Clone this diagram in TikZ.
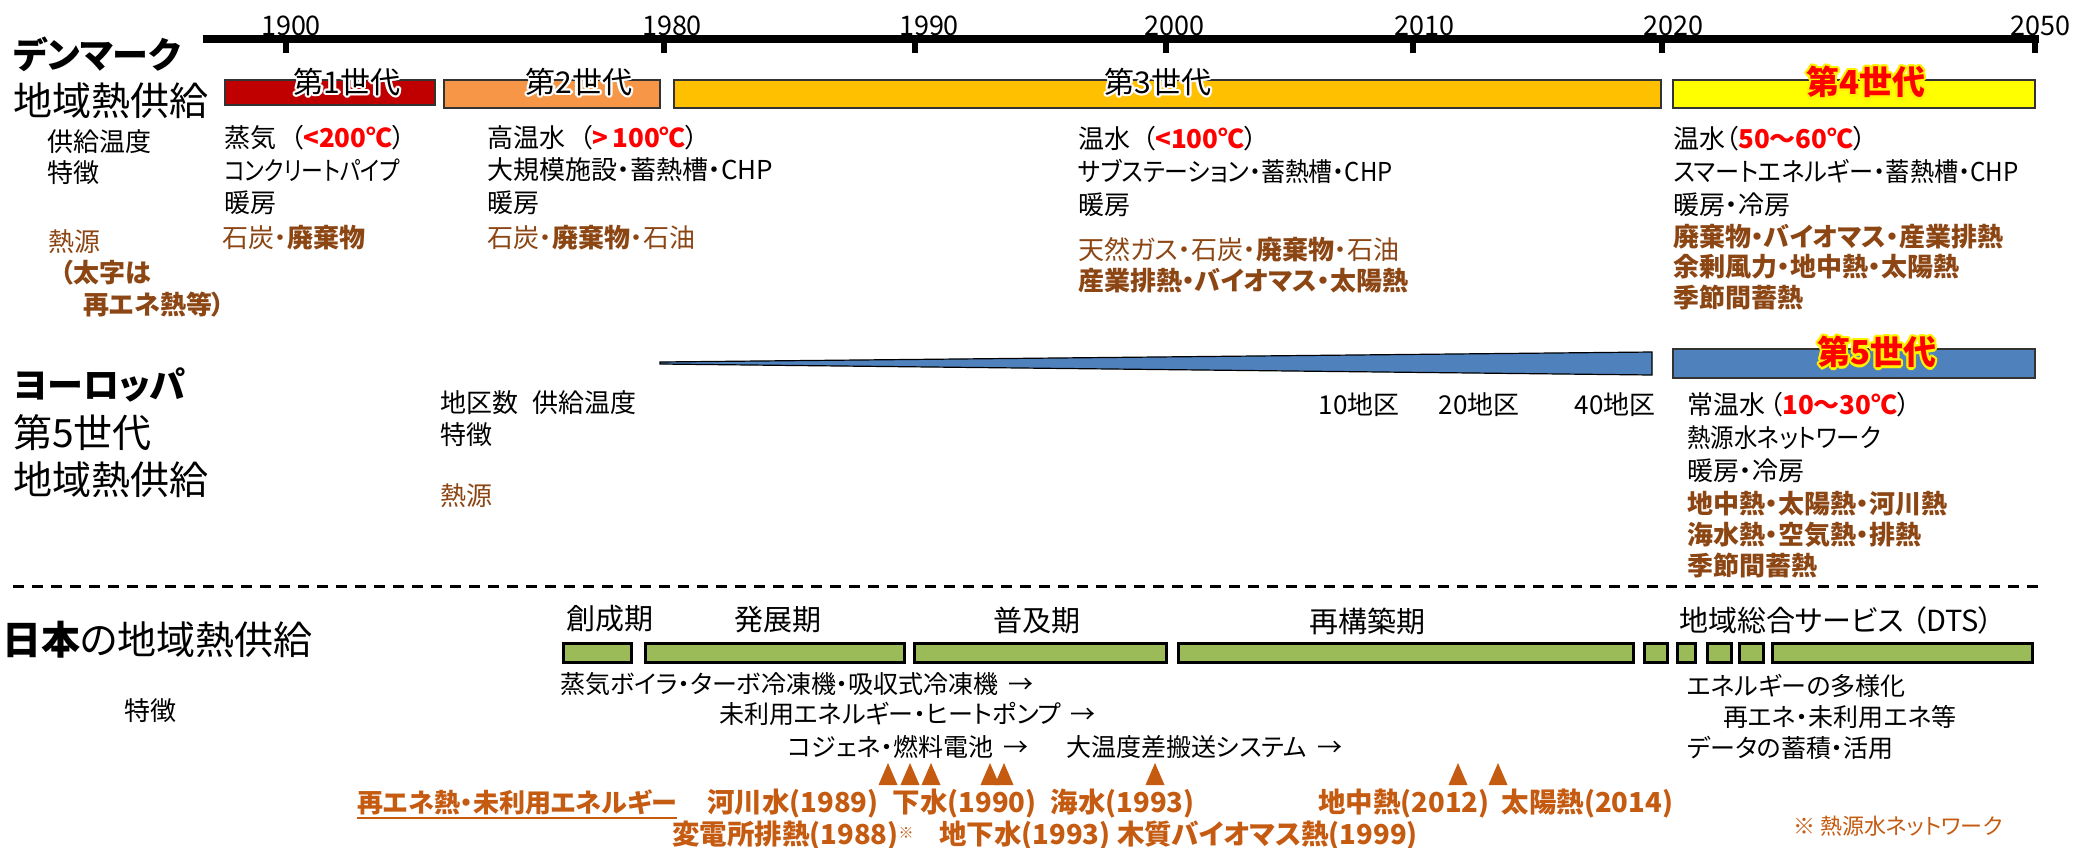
\documentclass[tikz,border=0pt]{standalone}
\usepackage{fontspec}
\usepackage{graphicx}
\setmainfont{Noto Sans CJK JP}[RawFeature=+palt]
\usetikzlibrary{calc}
\definecolor{brn}{HTML}{8C4614}
\definecolor{org}{HTML}{C55A11}
\definecolor{genA}{HTML}{C00000}
\definecolor{genB}{HTML}{F79646}
\definecolor{genC}{HTML}{FFC000}
\definecolor{genD}{HTML}{FFFF00}
\definecolor{eublue}{HTML}{4F81BD}
\definecolor{jpgreen}{HTML}{9BBB59}
\newcommand\fsz[1]{\fontsize{#1}{#1}\selectfont}
\newcommand\rb[1]{\textcolor{red}{\bfseries #1}}
\newcommand\nx[2]{\scalebox{#1}[1]{#2}}
\tikzset{
  tx/.style={anchor=west, inner sep=0pt, font=\fsz{26}},
  txb/.style={tx, text=brn},
  ttl/.style={anchor=west, inner sep=0pt, font=\fsz{39}},
  yr/.style={inner sep=0pt, font=\fsz{27}},
  genbar/.style={draw=black!80, line width=1.5pt},
  jpbar/.style={draw=black, line width=3pt, fill=jpgreen},
  glab/.style={inner sep=0pt, font=\fsz{30}},
  glabr/.style={inner sep=0pt, font=\fsz{33}\bfseries, text=red},
  per/.style={inner sep=0pt, font=\fsz{29}},
  orgb/.style={anchor=west, inner sep=0pt, font=\fsz{27.5}\bfseries, text=org},
  tri/.style={fill=org, draw=none},
}
\newcommand\glow[5]{%
  \foreach \a in {0,30,...,330}{\node[#4, text=#3] at ($(#2)+(\a:2.4)$) {#5};}
  \node[#4] (#1) at (#2) {#5};
}
\begin{document}
\begin{tikzpicture}[x=1pt,y=-1pt]
\useasboundingbox[fill=white] (0,0) rectangle (2082,847);

% ---------- time axis ----------
\coordinate (ax0) at (203,39);
\coordinate (ax1) at (2039,39);
\draw[line width=8pt] (ax0) -- (ax1);
\foreach \x/\n/\lx in {286/1900/291, 664/1980/672, 915/1990/929, 1166/2000/1174, 1413/2010/1424, 1662/2020/1673, 2035/2050/2040}{
  \draw[line width=6pt] (\x,39) -- (\x,53);
  \node[yr] (y\n) at (\lx,26) {\n};
}

% ---------- Denmark ----------
\node[ttl, font=\fsz{36}\bfseries] (dk1) at (13,54) {デンマーク};
\node[ttl] (dk2) at (13,101) {地域熱供給};
\node[tx] (dkl1) at (47,142) {供給温度};
\node[tx] (dkl2) at (47,173) {特徴};
\node[txb] (dkl3) at (48,242) {熱源};
\node[txb, font=\fsz{26}\bfseries] (dkl4) at (60,273) {（太字は};
\node[txb, font=\fsz{26}\bfseries] (dkl5) at (83,305) {再エネ熱等）};

\draw[genbar, fill=genA] (225,80) rectangle (435,105);
\draw[genbar, fill=genB] (444,80) rectangle (660,108);
\draw[genbar, fill=genC] (674,80) rectangle (1661,108);
\draw[genbar, fill=genD] (1673,80) rectangle (2035,108);
\glow{g1}{347,82}{white}{glab}{第1世代}
\glow{g2}{579,82}{white}{glab}{第2世代}
\glow{g3}{1158,82}{white}{glab}{第3世代}
\glow{g4}{1866,82}{yellow}{glabr}{第4世代}

% column 1
\node[tx] (c1a) at (224,138) {蒸気\hspace{14pt}（\rb{<200℃}）};
\node[tx] (c1b) at (224,170) {\nx{0.84}{コンクリートパイプ}};
\node[tx] (c1c) at (224,203) {暖房};
\node[txb] (c1d) at (222,238) {石炭・\textbf{廃棄物}};
% column 2
\node[tx] (c2a) at (487,138) {高温水\hspace{14pt}（\rb{>\,100℃}）};
\node[tx] (c2b) at (487,170) {大規模施設・蓄熱槽・CHP};
\node[tx] (c2c) at (487,203) {暖房};
\node[txb] (c2d) at (487,238) {石炭・\textbf{廃棄物}・石油};
% column 3
\node[tx] (c3a) at (1078,139) {温水\hspace{12pt}（\rb{<100℃}）};
\node[tx] (c3b) at (1078,171) {\nx{0.92}{サブステーション・蓄熱槽・CHP}};
\node[tx] (c3c) at (1078,205) {暖房};
\node[txb] (c3d) at (1078,250) {天然ガス・石炭・\textbf{廃棄物}・石油};
\node[txb, font=\fsz{26}\bfseries] (c3e) at (1078,281) {産業排熱・バイオマス・太陽熱};
% column 4
\node[tx] (c4a) at (1673,139) {温水（\rb{50～60℃}）};
\node[tx] (c4b) at (1673,171) {\nx{0.93}{スマートエネルギー・蓄熱槽・CHP}};
\node[tx] (c4c) at (1673,205) {暖房・冷房};
\node[txb, font=\fsz{26}\bfseries] (c4d) at (1673,237) {廃棄物・バイオマス・産業排熱};
\node[txb, font=\fsz{26}\bfseries] (c4e) at (1673,267) {余剰風力・地中熱・太陽熱};
\node[txb, font=\fsz{26}\bfseries] (c4f) at (1673,298) {季節間蓄熱};

% ---------- Europe ----------
\node[ttl, font=\fsz{36}\bfseries] (eu1) at (13,385) {ヨーロッパ};
\node[ttl] (eu2) at (13,433) {第5世代};
\node[ttl] (eu3) at (13,480) {地域熱供給};
\node[tx] (eul1) at (440,403) {地区数\hspace{14pt}供給温度};
\node[tx] (eul2) at (440,435) {特徴};
\node[txb] (eul3) at (440,496) {熱源};

\draw[fill=eublue, draw=black, line width=1.2pt] (660,362) -- (1652,352) -- (1652,375) -- (660,364) -- cycle;
\node[tx, anchor=center] (d10) at (1359,405) {10地区};
\node[tx, anchor=center] (d20) at (1479,405) {20地区};
\node[tx, anchor=center] (d40) at (1615,405) {40地区};
\draw[genbar, fill=eublue] (1673,349) rectangle (2035,378);
\glow{g5}{1877,352}{yellow}{glabr}{第5世代}

\node[tx] (c5a) at (1687,405) {常温水\hspace{4pt}（\rb{10～30℃}）};
\node[tx] (c5b) at (1687,438) {\nx{0.9}{熱源水ネットワーク}};
\node[tx] (c5c) at (1687,471) {暖房・冷房};
\node[txb, font=\fsz{26}\bfseries] (c5d) at (1687,504) {地中熱・太陽熱・河川熱};
\node[txb, font=\fsz{26}\bfseries] (c5e) at (1687,535) {海水熱・空気熱・排熱};
\node[txb, font=\fsz{26}\bfseries] (c5f) at (1687,566) {季節間蓄熱};

% ---------- separator ----------
\coordinate (sep0) at (13,586);
\coordinate (sep1) at (2045,586);
\draw[line width=3pt, dash pattern=on 11pt off 8pt] (sep0) -- (sep1);

% ---------- Japan ----------
\node[ttl] (jp1) at (2,640) {\textbf{日本}の地域熱供給};
\node[tx] (jpl) at (124,711) {特徴};

\node[per] (p1) at (610,619) {創成期};
\node[per] (p2) at (778,620) {発展期};
\node[per] (p3) at (1037,620) {普及期};
\node[per] (p4) at (1367,621) {再構築期};
\node[per, anchor=west] (p5) at (1679,620) {地域総合サービス\hspace{8pt}（DTS）};

\foreach \a/\b in {563/631, 645/904, 914/1166, 1178/1633, 1644/1667, 1677/1695, 1707/1731, 1739/1763, 1772/2032}{
  \draw[jpbar] (\a,643) rectangle (\b,662);
}

\node[tx, font=\fsz{25}] (f1) at (560,684) {蒸気ボイラ・ターボ冷凍機・吸収式冷凍機\hspace{10pt}→};
\node[tx, font=\fsz{25}] (f2) at (719,714) {未利用エネルギー・ヒートポンプ\hspace{10pt}→};
\node[tx, font=\fsz{25}] (f3) at (788,747) {コジェネ・燃料電池\hspace{10pt}→};
\node[tx, font=\fsz{25}] (f4) at (1066,747) {大温度差搬送システム\hspace{10pt}→};
\node[tx, font=\fsz{25}] (f5) at (1687,686) {エネルギーの多様化};
\node[tx, font=\fsz{25}] (f6) at (1723,717) {再エネ・未利用エネ等};
\node[tx, font=\fsz{25}] (f7) at (1687,748) {データの蓄積・活用};

\foreach \x in {888, 910, 931, 990, 1004, 1155, 1458, 1498}{
  \fill[tri] (\x-9.5,785) -- (\x,763) -- (\x+9.5,785) -- cycle;
}

\node[orgb, font=\fsz{26}\bfseries] (r0) at (357,802) {再エネ熱・未利用エネルギー};
\draw[org, line width=1.5pt] (r0.south west) ++(0,3) coordinate (u0) -- (r0.south east |- u0);
\node[orgb] (r1) at (707,804) {河川水(1989)\hspace{14pt}下水(1990)\hspace{14pt}海水(1993)};
\node[orgb] (r2) at (1318,804) {地中熱(2012)\hspace{12pt}太陽熱(2014)};
\node[orgb] (r3) at (672,836) {変電所排熱(1988)\raisebox{6pt}{\fsz{15}※}};
\node[orgb] (r4) at (939,836) {地下水(1993) 木質バイオマス熱(1999)};
\node[anchor=west, inner sep=0pt, font=\fsz{22}, text=org] (note) at (1793,826) {※ 熱源水ネットワーク};
\end{tikzpicture}
\end{document}
